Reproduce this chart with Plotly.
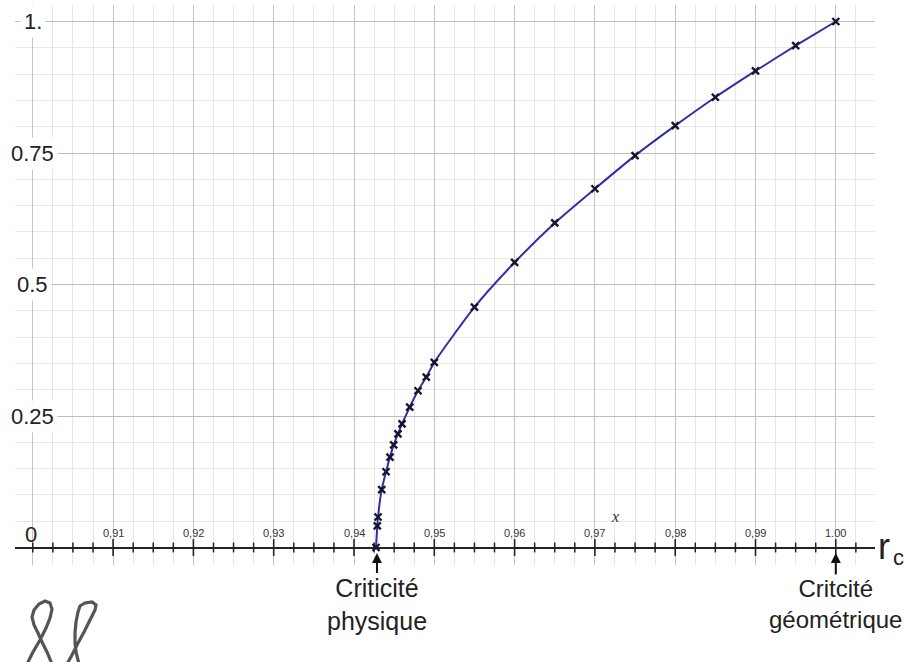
import numpy as np
import plotly.graph_objects as go

# Measured curve: relative quantity versus r_c
r_c = [0.94274, 0.94290, 0.94299, 0.94345, 0.94399, 0.94448, 0.94494, 0.94548,
       0.94598, 0.94694, 0.94797, 0.94900, 0.95000, 0.95500, 0.96000, 0.96500,
       0.97000, 0.97500, 0.98000, 0.98500, 0.99000, 0.99500, 1.00000]
value = [0.000, 0.041, 0.058, 0.110, 0.144, 0.172, 0.195, 0.216,
         0.235, 0.267, 0.298, 0.324, 0.352, 0.457, 0.542, 0.617,
         0.682, 0.745, 0.802, 0.856, 0.906, 0.954, 1.000]

# Axis labels drawn as text
x_tick_values = [0.91, 0.92, 0.93, 0.94, 0.95, 0.96, 0.97, 0.98, 0.99, 1.00]
x_tick_labels = ["0,91", "0,92", "0,93", "0,94", "0,95", "0,96", "0,97", "0,98", "0,99", "1.00"]
y_tick_values = [1.0, 0.75, 0.5, 0.25]
y_tick_labels = ["1.", "0.75", "0.5", "0.25"]

# Critical points marked by arrows
r_physique = 0.94286
r_geometrique = 1.0

W, H = 909, 662
L, R, T, B = 15, 34, 5, 97
X_RANGE = [0.897783, 1.004882]
Y_RANGE = [-0.03327, 1.03137]
SANS = "Liberation Sans, Arial"


def paper_xy(px, py):
    """Convert page pixels to paper coordinates of the plotting area."""
    return (px - L) / (W - L - R), (H - B - py) / (H - T - B)


def y_at(py):
    return Y_RANGE[0] + (H - B - py) / (H - T - B) * (Y_RANGE[1] - Y_RANGE[0])


fig = go.Figure()

# Tick crosses on the horizontal axis
minor_ticks = np.round(np.arange(0.90, 1.0026, 0.0025), 4)
minor_ticks = [t for t in minor_ticks if round(t * 100, 6) % 1 != 0 or t < 0.905]
fig.add_trace(go.Scatter(
    x=minor_ticks, y=[0] * len(minor_ticks), mode="markers", hoverinfo="skip",
    marker=dict(symbol="line-ns", size=7, line=dict(width=1.5, color="#222"), color="#222"),
    showlegend=False))
fig.add_trace(go.Scatter(
    x=x_tick_values, y=[0] * len(x_tick_values), mode="markers", hoverinfo="skip",
    marker=dict(symbol="line-ns", size=12, line=dict(width=1.6, color="#222"), color="#222"),
    showlegend=False))

# Curve with its measured points
fig.add_trace(go.Scatter(
    x=r_c, y=value, mode="lines+markers",
    line=dict(color="#2f2fa8", width=2, shape="spline", smoothing=0.6),
    marker=dict(symbol="x-thin", size=7, line=dict(width=2.4, color="#15152e")),
    showlegend=False))

annotations = []
# x tick labels (above the axis)
for xv, lab in zip(x_tick_values, x_tick_labels):
    annotations.append(dict(x=xv, y=y_at(533), text=lab, showarrow=False,
                            xanchor="center", yanchor="middle",
                            font=dict(size=11, color="#333", family=SANS)))
# y tick labels on the left, masking the grid behind them
for yv, lab in zip(y_tick_values, y_tick_labels):
    annotations.append(dict(x=0.9000, y=yv, text=lab, showarrow=False,
                            xanchor="center", yanchor="middle", bgcolor="white", borderpad=3,
                            font=dict(size=22, color="#222", family=SANS)))
annotations.append(dict(x=0.89978, y=y_at(534), text="0", showarrow=False,
                        xanchor="center", yanchor="middle",
                        font=dict(size=22, color="#222", family=SANS)))
# small italic variable name
annotations.append(dict(x=0.9725, y=y_at(516), text="x", showarrow=False,
                        xanchor="center", yanchor="middle",
                        font=dict(size=16, color="#333", style="italic",
                                  family="Liberation Serif, Times New Roman")))
# axis name: r with subscript c
px_, py_ = paper_xy(876, 546)
annotations.append(dict(xref="paper", yref="paper", x=px_, y=py_, text="r",
                        showarrow=False, xanchor="left", yanchor="middle",
                        font=dict(size=36, color="#222", family=SANS)))
px_, py_ = paper_xy(891, 557)
annotations.append(dict(xref="paper", yref="paper", x=px_, y=py_, text="c",
                        showarrow=False, xanchor="left", yanchor="middle",
                        font=dict(size=22, color="#222", family=SANS)))
# captions with arrows pointing at the critical values
for xv, caption, size in ((r_physique, "Criticité<br>physique", 25),
                          (r_geometrique, "Critcité<br>géométrique", 24)):
    annotations.append(dict(x=xv, y=y_at(553), ax=0, ay=51, text=caption, showarrow=True,
                            arrowhead=2, arrowsize=1, arrowwidth=2, arrowcolor="#111",
                            standoff=0, startstandoff=0, borderpad=0,
                            font=dict(size=size, color="#222", family=SANS)))


def path_from_pixels(points):
    coords = [paper_xy(px, py) for px, py in points]
    return "M " + " L ".join(f"{a:.5f},{b:.5f}" for a, b in coords)


# hand-drawn double loop in the lower left corner
glyph_a = [(27, 664), (33, 652), (40, 640), (46, 628), (50, 618), (52, 609), (50, 603),
           (45, 601), (39, 604), (34, 610), (32, 617), (34, 625), (38, 633), (42, 642),
           (47, 652), (52, 664)]
glyph_b = [(67, 664), (72, 655), (77, 645), (84, 632), (90, 620), (95, 610), (96, 605),
           (92, 602), (85, 603), (80, 606), (78, 612), (76, 622), (75, 633), (75, 643),
           (76, 652), (79, 664)]
shapes = []
for g in (glyph_a, glyph_b):
    shapes.append(dict(type="path", xref="paper", yref="paper", path=path_from_pixels(g),
                       line=dict(color="#555", width=3.2)))

fig.update_layout(
    width=W, height=H,
    margin=dict(l=L, r=R, t=T, b=B, pad=0),
    paper_bgcolor="white", plot_bgcolor="white",
    annotations=annotations, shapes=shapes,
    xaxis=dict(range=X_RANGE, showticklabels=False, ticks="", showline=False,
               zeroline=False, tick0=0.90, dtick=0.01,
               showgrid=True, gridcolor="#c4c4c4", gridwidth=1,
               minor=dict(tick0=0.90, dtick=0.0025, showgrid=True,
                          gridcolor="#e6e6e6", gridwidth=1)),
    yaxis=dict(range=Y_RANGE, showticklabels=False, ticks="", showline=False,
               zeroline=True, zerolinecolor="#222", zerolinewidth=2,
               tick0=0, dtick=0.25, showgrid=True, gridcolor="#bdbdbd", gridwidth=1.3,
               minor=dict(tick0=0, dtick=0.05, showgrid=True,
                          gridcolor="#e8e8e8", gridwidth=1)),
    showlegend=False,
)

fig.write_html("out.html")
